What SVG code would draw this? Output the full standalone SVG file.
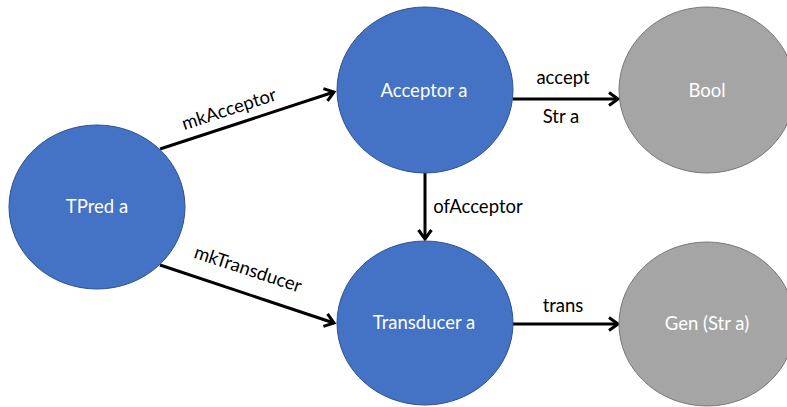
<svg xmlns="http://www.w3.org/2000/svg" width="787" height="407" viewBox="0 0 787 407">
<defs>
<marker id="arr" markerWidth="14" markerHeight="16" refX="11" refY="8" orient="auto" markerUnits="userSpaceOnUse">
<path d="M2,1.5 L11,8 L2,14.5" fill="none" stroke="#000" stroke-width="3"/>
</marker>
</defs>
<style>
.blue{fill:#4472C4;stroke:#2F528F;stroke-width:1}
.grey{fill:#A5A5A5;stroke:#787878;stroke-width:1}
.nt{fill:#fff;font-family:Lato,"Open Sans",sans-serif;font-size:18.5px;text-anchor:middle}
.et{fill:#000;font-family:Lato,"Open Sans",sans-serif;font-size:18.5px;text-anchor:middle}
.edge{stroke:#000;stroke-width:3;fill:none;marker-end:url(#arr)}
</style>
<rect width="787" height="407" fill="#fff"/>
<g id="connectors">
<line class="edge" x1="160" y1="149" x2="334" y2="92"/>
<line class="edge" x1="160" y1="265" x2="334" y2="323"/>
<line class="edge" x1="425" y1="173" x2="425" y2="239"/>
<line class="edge" x1="513" y1="99" x2="618" y2="99"/>
<line class="edge" x1="513" y1="324" x2="618" y2="324"/>
<text class="et" transform="translate(231,115) rotate(-18)">mkAcceptor</text>
<text class="et" transform="translate(246,275) rotate(18.3)">mkTransducer</text>
<text class="et" x="478" y="213">ofAcceptor</text>
<text class="et" x="563" y="84">accept</text>
<text class="et" x="561" y="123">Str a</text>
<text class="et" x="563" y="312">trans</text>
</g>
<g id="tpred">
<ellipse class="blue" cx="97" cy="207" rx="88" ry="82"/>
<text class="nt" x="97" y="213">TPred a</text>
</g>
<g id="acceptor">
<ellipse class="blue" cx="425" cy="90" rx="88" ry="83"/>
<text class="nt" x="424" y="97">Acceptor a</text>
</g>
<g id="transducer">
<ellipse class="blue" cx="425" cy="323" rx="88" ry="82"/>
<text class="nt" x="424" y="329">Transducer a</text>
</g>
<g id="bool">
<ellipse class="grey" cx="707" cy="90" rx="88" ry="83"/>
<text class="nt" x="707" y="97">Bool</text>
</g>
<g id="gen">
<ellipse class="grey" cx="707" cy="324" rx="88" ry="82"/>
<text class="nt" x="707" y="330">Gen (Str a)</text>
</g>
</svg>
